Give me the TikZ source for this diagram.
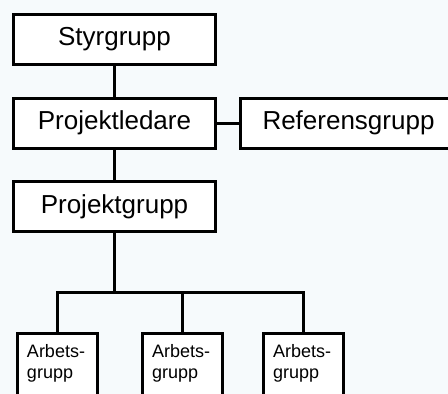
\documentclass[tikz,border=0pt]{standalone}
\usepackage{fontspec}
\setmainfont{Liberation Sans}
\usepackage{xcolor}
\usepackage{tikz}
\usetikzlibrary{positioning, calc}
\definecolor{bgblue}{RGB}{246,250,252}
\tikzset{
    box/.style={
        rectangle,
        line width=3pt,
        draw=black,
        fill=white,
        minimum width=202pt,
        minimum height=50pt,
        font=\fontsize{26}{31}\selectfont,
    },
    smallbox/.style={
        rectangle,
        line width=3pt,
        draw=black,
        fill=white,
        inner xsep=9.5pt,
        inner ysep=11pt,
        anchor=north,
        font=\fontsize{18}{21}\selectfont,
    },
}

\begin{document}
\begin{tikzpicture}[x=1pt, y=1pt, node distance=83.5pt, line width=3pt]
      \useasboundingbox[fill=bgblue] (0,0) rectangle (448,-394);
      \clip (0,0) rectangle (448,-394);

      \node [box] (Styrgrupp) at (114.5,-39.5) {Styrgrupp};
      \node [box] (Projektledare) [below of= Styrgrupp] {Projektledare};
      \node [box, minimum width=230pt] (Referensgrupp) [right of= Projektledare, node distance=241pt] {\hspace*{-14pt}Referensgrupp};
      \node [box] (Projektgrupp) [below of= Projektledare] {Projektgrupp};
      \coordinate[node distance=85.5pt, below of=Projektgrupp] (branch);

      \node [smallbox] (Arb1) at (57.5,-331.5) {\parbox[t][80pt][t]{61pt}{Arbets-\\grupp}};
      \node [smallbox] (Arb2) at (182.5,-331.5) {\parbox[t][80pt][t]{61pt}{Arbets-\\grupp}};
      \node [smallbox] (Arb3) at (303.5,-331.5) {\parbox[t][80pt][t]{61pt}{Arbets-\\grupp}};

      \path (Styrgrupp) edge (Projektledare);
      \path (Projektledare) edge (Referensgrupp);
      \path (Projektledare) edge (Projektgrupp);
      \draw (Projektgrupp) -- (branch);
      \draw (Arb1.north) |- (branch);
      \draw (Arb2.north) |- (branch);
      \draw (Arb3.north) |- (branch);
    \end{tikzpicture}
\end{document}
